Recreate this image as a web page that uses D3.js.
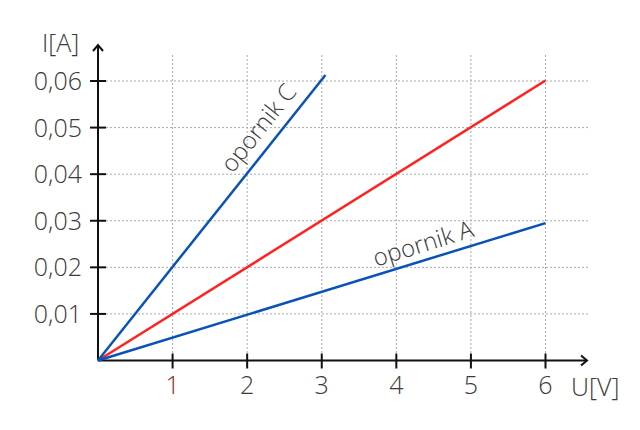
<!DOCTYPE html>
<html><head><meta charset="utf-8">
<script src="https://cdn.jsdelivr.net/npm/d3@7"></script>
<style>
html,body{margin:0;padding:0;background:#fff;}
svg text{font-family:"Open Sans",sans-serif;font-weight:300;fill:#3a3a3a;}
</style></head>
<body>
<svg id="c" width="640" height="430"></svg>
<script>
// Data
const xTicks = [1, 2, 3, 4, 5, 6];
const yTicks = [0.01, 0.02, 0.03, 0.04, 0.05, 0.06];
const yTickLabels = ["0,01", "0,02", "0,03", "0,04", "0,05", "0,06"];
const lineC = [[0, 0], [3.05, 0.0613]];
const lineRed = [[0, 0], [6, 0.0601]];
const lineA = [[0, 0], [6, 0.0295]];
const labelC = "opornik C";
const labelA = "opornik A";
const xTitle = "U[V]";
const yTitle = "I[A]";

const svg = d3.select("#c");
const x = d3.scaleLinear().domain([0, 6]).range([98, 545.5]);
const y = d3.scaleLinear().domain([0, 0.06]).range([360.5, 81]);

// grid
const g = svg.append("g");
g.selectAll("line.v").data(xTicks).join("line")
  .attr("x1", d => x(d)).attr("x2", d => x(d))
  .attr("y1", 55).attr("y2", y(0))
  .attr("stroke", "#aaa").attr("stroke-width", 1).attr("stroke-dasharray", "2,2");
g.selectAll("line.h").data(yTicks).join("line")
  .attr("x1", x(0)).attr("x2", 588)
  .attr("y1", d => y(d)).attr("y2", d => y(d))
  .attr("stroke", "#aaa").attr("stroke-width", 1).attr("stroke-dasharray", "2,2");

// axes
const ax = svg.append("g").attr("stroke", "#111").attr("stroke-width", 2).attr("fill", "none");
ax.append("line").attr("x1", x(0)).attr("x2", 587).attr("y1", y(0)).attr("y2", y(0));
ax.append("line").attr("x1", x(0)).attr("x2", x(0)).attr("y1", y(0)).attr("y2", 45);
ax.append("path").attr("d", `M${587-6},${y(0)-5} L587,${y(0)} L${587-6},${y(0)+5}`);
ax.append("path").attr("d", `M${x(0)-5},51 L${x(0)},45 L${x(0)+5},51`);
ax.selectAll("line.xt").data(xTicks).join("line")
  .attr("x1", d => x(d)).attr("x2", d => x(d)).attr("y1", y(0) - 7).attr("y2", y(0) + 8);
ax.selectAll("line.yt").data(yTicks).join("line")
  .attr("x1", x(0) - 8).attr("x2", x(0) + 8).attr("y1", d => y(d)).attr("y2", d => y(d));

// tick labels
svg.selectAll("text.xl").data(xTicks).join("text")
  .attr("x", d => x(d)).attr("y", 394).attr("text-anchor", "middle")
  .attr("font-size", 25)
  .style("fill", d => d === 1 ? "#8a2a1e" : "#3a3a3a")
  .text(d => d);
svg.selectAll("text.yl").data(yTicks).join("text")
  .attr("x", 82).attr("y", d => y(d) + 9).attr("text-anchor", "end")
  .attr("font-size", 25)
  .text((d, i) => yTickLabels[i]);
svg.append("text").attr("x", 42).attr("y", 52).attr("font-size", 25).text(yTitle);
svg.append("text").attr("x", 571).attr("y", 396).attr("font-size", 25).text(xTitle);

// lines
const line = d3.line().x(d => x(d[0])).y(d => y(d[1]));
svg.append("path").datum(lineRed).attr("d", line).attr("stroke", "#ff2222").attr("stroke-width", 2.5).attr("fill", "none");
svg.append("path").datum(lineC).attr("d", line).attr("stroke", "#0a52b8").attr("stroke-width", 2.5).attr("fill", "none");
svg.append("path").datum(lineA).attr("d", line).attr("stroke", "#0a52b8").attr("stroke-width", 2.5).attr("fill", "none");

// labels along lines
function addLabel(data, u, off, txt) {
  const p0 = data[0], p1 = data[1];
  const ang = Math.atan2(y(p1[1]) - y(p0[1]), x(p1[0]) - x(p0[0])) * 180 / Math.PI;
  const v = p0[1] + (p1[1] - p0[1]) * (u - p0[0]) / (p1[0] - p0[0]);
  svg.append("text")
    .attr("transform", `translate(${x(u)},${y(v)}) rotate(${ang}) translate(0,${off})`)
    .attr("font-size", 24).text(txt);
}
addLabel(lineC, 1.92, -11, labelC);
addLabel(lineA, 3.76, -8, labelA);
</script>
</body></html>
